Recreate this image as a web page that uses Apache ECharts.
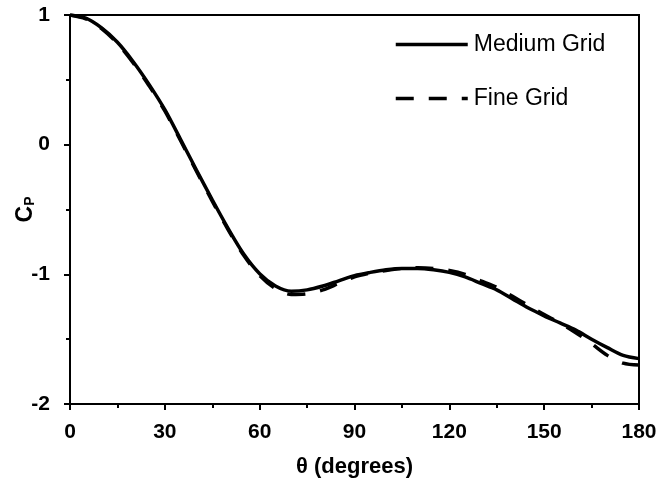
<!DOCTYPE html>
<html>
<head>
<meta charset="utf-8">
<script src="https://cdn.jsdelivr.net/npm/echarts@6/dist/echarts.min.js"></script>
<style>
html,body{margin:0;padding:0;background:#fff;}
#chart{width:661px;height:479px;}
</style>
</head>
<body>
<div id="chart"></div>
<script>
var theta = [0,5,10,15,20,25,30,35,40,45,50,55,60,65,70,75,80,85,90,95,100,105,110,115,120,125,130,135,140,145,150,155,160,165,170,175,180];
var mediumGrid = [1.00,0.975,0.90,0.79,0.64,0.465,0.27,0.04,-0.195,-0.425,-0.645,-0.845,-0.995,-1.09,-1.13,-1.12,-1.09,-1.05,-1.01,-0.985,-0.965,-0.955,-0.955,-0.965,-0.985,-1.02,-1.07,-1.12,-1.19,-1.26,-1.32,-1.375,-1.43,-1.50,-1.565,-1.625,-1.65];
var fineGrid = [1.00,0.97,0.895,0.78,0.63,0.455,0.26,0.03,-0.205,-0.435,-0.655,-0.855,-1.01,-1.11,-1.155,-1.15,-1.12,-1.07,-1.02,-0.99,-0.97,-0.955,-0.95,-0.955,-0.97,-1.00,-1.05,-1.10,-1.17,-1.24,-1.31,-1.375,-1.45,-1.535,-1.625,-1.685,-1.70];
var xTicks = [0,30,60,90,120,150,180];
var yTicks = [-2,-1,0,1];
var seriesNames = ['Medium Grid','Fine Grid'];

function pairs(xs, ys){ return xs.map(function(x,i){ return [x, ys[i]]; }); }

var chart = echarts.init(document.getElementById('chart'), null, {renderer:'canvas'});
var font = 'Arial, "Liberation Sans", sans-serif';
chart.setOption({
  animation:false,
  backgroundColor:'#ffffff',
  grid:{left:70,right:22,top:15,bottom:75,outerBoundsMode:'none',containLabel:false,
        show:true,borderColor:'#000',borderWidth:2},
  legend:{
    orient:'vertical', left:394, top:33, padding:0, itemWidth:72, itemHeight:14, itemGap:31,
    data:seriesNames,
    itemStyle:{opacity:0},
    lineStyle:{width:3.5},
    textStyle:{fontFamily:font,fontSize:23,color:'#000',padding:[0,0,0,1]}
  },
  xAxis:{
    type:'value', min:0, max:180, interval:30,
    name:'θ (degrees)', nameLocation:'middle', nameGap:52, nameMoveOverlap:false,
    nameTextStyle:{fontFamily:font,fontSize:22,fontWeight:'bold',color:'#000'},
    axisLine:{show:true,onZero:false,lineStyle:{color:'#000',width:2}},
    axisTick:{show:true,inside:false,length:6,lineStyle:{color:'#000',width:2}},
    minorTick:{show:true,splitNumber:2,length:4,lineStyle:{color:'#000',width:2}},
    splitLine:{show:false},
    axisLabel:{margin:18,fontFamily:font,fontSize:21,fontWeight:'bold',color:'#000',
      formatter:function(v){ return xTicks.indexOf(v)>=0 ? String(v) : ''; }}
  },
  yAxis:{
    type:'value', min:-2, max:1, interval:1,
    name:'{c|C}{p|P}', nameLocation:'middle', nameGap:33, nameRotate:90, nameMoveOverlap:false,
    nameTextStyle:{rich:{
      c:{fontFamily:font,fontSize:23,fontWeight:'bold',color:'#000'},
      p:{fontFamily:font,fontSize:14,fontWeight:'bold',color:'#000',verticalAlign:'bottom',padding:[8,0,0,0]}
    }},
    axisLine:{show:true,onZero:false,lineStyle:{color:'#000',width:2}},
    axisTick:{show:true,inside:false,length:6,lineStyle:{color:'#000',width:2}},
    minorTick:{show:true,splitNumber:2,length:4,lineStyle:{color:'#000',width:2}},
    splitLine:{show:false},
    axisLabel:{margin:20,fontFamily:font,fontSize:21,fontWeight:'bold',color:'#000',
      formatter:function(v){ return yTicks.indexOf(v)>=0 ? String(v) : ''; }}
  },
  series:[
    {name:seriesNames[0],type:'line',data:pairs(theta,mediumGrid),smooth:0.3,symbol:'none',
     lineStyle:{color:'#000',width:3.5,type:'solid'},itemStyle:{color:'#000'}},
    {name:seriesNames[1],type:'line',data:pairs(theta,fineGrid),smooth:0.3,symbol:'none',
     lineStyle:{color:'#000',width:3.5,type:[18,15]},itemStyle:{color:'#000'}}
  ]
});
</script>
</body>
</html>
